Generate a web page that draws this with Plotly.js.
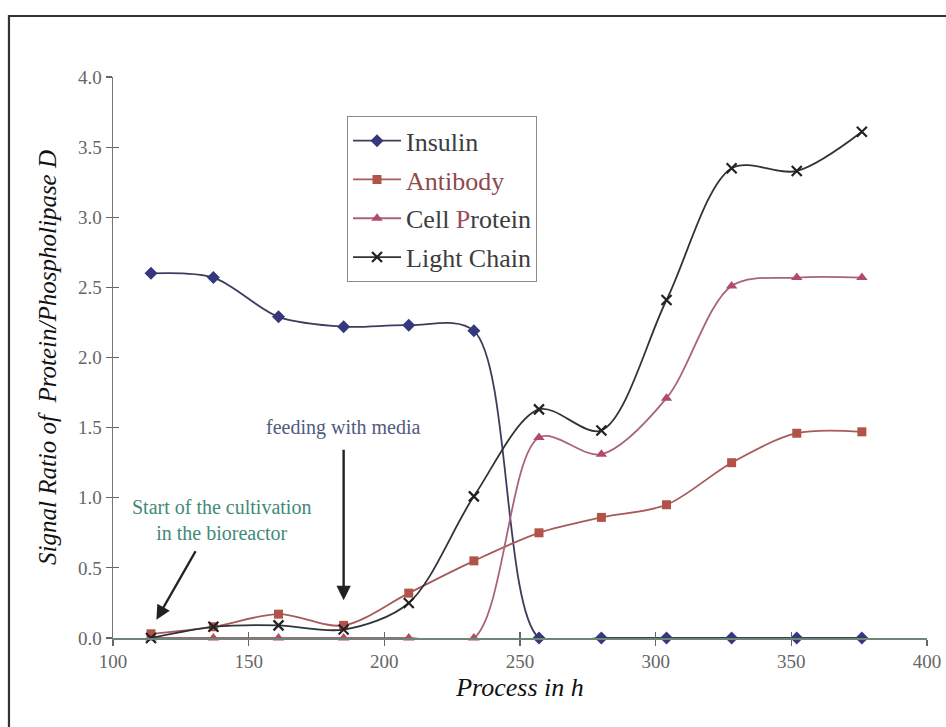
<!DOCTYPE html>
<html>
<head>
<meta charset="utf-8">
<script src="https://cdn.plot.ly/plotly-3.0.1.min.js"></script>
<style>
html,body{margin:0;padding:0;background:#fff;}
#chart{width:946px;height:727px;}
</style>
</head>
<body>
<div id="chart"></div>
<script>
// Process time (h)
const hours = [114, 137, 161, 185, 209, 233, 257, 280, 304, 328, 352, 376];
// Signal ratio of protein / phospholipase D
const insulin     = [2.60, 2.57, 2.29, 2.22, 2.23, 2.19, 0.00, 0.00, 0.00, 0.00, 0.00, 0.00];
const antibody    = [0.03, 0.08, 0.17, 0.09, 0.32, 0.55, 0.75, 0.86, 0.95, 1.25, 1.46, 1.47];
const cellProtein = [0.00, 0.00, 0.00, 0.00, 0.00, 0.00, 1.43, 1.31, 1.71, 2.51, 2.57, 2.57];
const lightChain  = [0.00, 0.08, 0.09, 0.06, 0.25, 1.01, 1.63, 1.48, 2.41, 3.35, 3.33, 3.61];

const seriesNames = ['Insulin', 'Antibody', 'Cell Protein', 'Light Chain'];
const xTicks = [100, 150, 200, 250, 300, 350, 400];
const yTicks = [0, 0.5, 1.0, 1.5, 2.0, 2.5, 3.0, 3.5, 4.0];

const serif = 'Liberation Serif, Times New Roman, serif';

function mk(name, y, lineColor, marker, group) {
  return {
    x: hours, y: y, name: name, type: 'scatter', mode: 'lines+markers',
    line: {color: lineColor, width: 1.8, shape: 'spline', smoothing: 0.9},
    marker: marker, cliponaxis: false, legendgroup: group
  };
}

const traces = [
  mk(seriesNames[0], insulin, '#3b3d5e', {symbol: 'diamond', size: 10, color: '#36387e'}, 'g1'),
  mk('<span style="color:#8e4a4a">' + seriesNames[1] + '</span>', antibody, '#a85a5a', {symbol: 'square', size: 9, color: '#b2534a'}, 'g2'),
  mk('Cell <span style="color:#9a4a5a">P</span>rotein', cellProtein, '#a8647a', {symbol: 'triangle-up', size: 10, color: '#b24c66'}, 'g3'),
  mk(seriesNames[3], lightChain, '#2f3436', {symbol: 'x-thin', size: 10, line: {width: 2.2, color: '#222'}, color: '#222'}, 'g4'),
  // helper trace so the crossing-tick overlay axes are created
  {x: [], y: [], xaxis: 'x2', yaxis: 'y2', showlegend: false, hoverinfo: 'skip', type: 'scatter'}
];

const layout = {
  width: 946, height: 727,
  margin: {l: 113, r: 19, t: 77, b: 89},
  paper_bgcolor: '#fff', plot_bgcolor: 'rgba(0,0,0,0)',
  font: {family: serif, color: '#555'},
  showlegend: true,
  legend: {
    x: 0.2875, y: 0.93, xanchor: 'left', yanchor: 'top',
    bgcolor: '#fff', bordercolor: '#8a8a8a', borderwidth: 1,
    font: {family: serif, size: 26, color: '#3c3c3c'},
    itemwidth: 48, tracegroupgap: 2, traceorder: 'grouped'
  },
  xaxis: {
    range: [100, 400], tickvals: xTicks, ticktext: xTicks.map(String),
    showgrid: false, zeroline: false, showline: true, linecolor: '#6f8676', linewidth: 1.5,
    ticks: 'outside', ticklen: 6, tickcolor: '#666', tickwidth: 1.2,
    tickfont: {family: serif, size: 19, color: '#666'},
    title: {text: '<i>Process in h</i>', font: {family: serif, size: 26, color: '#111'}, standoff: 6}
  },
  yaxis: {
    range: [0, 4], tickvals: yTicks, ticktext: yTicks.map(v => v.toFixed(1)),
    showgrid: false, zeroline: false, showline: true, linecolor: '#777', linewidth: 1.5,
    ticks: 'outside', ticklen: 6, tickcolor: '#666', tickwidth: 1.2,
    tickfont: {family: serif, size: 19, color: '#666'},
    title: {text: '<i>Signal Ratio of  Protein/Phospholipase D</i>', font: {family: serif, size: 25, color: '#111'}, standoff: 14}
  },
  xaxis2: {overlaying: 'x', range: [100, 400], tickvals: xTicks, showticklabels: false,
    showgrid: false, zeroline: false, showline: false, ticks: 'inside', ticklen: 6, tickcolor: '#666', tickwidth: 1.2},
  yaxis2: {overlaying: 'y', range: [0, 4], tickvals: yTicks, showticklabels: false,
    showgrid: false, zeroline: false, showline: false, ticks: 'inside', ticklen: 6, tickcolor: '#666', tickwidth: 1.2},
  shapes: [
    {type: 'rect', xref: 'paper', yref: 'paper', x0: -0.1278, x1: 1.2, y0: -0.3, y1: 1.1087,
     line: {color: '#333', width: 2.2}, fillcolor: 'rgba(0,0,0,0)', layer: 'below'}
  ],
  annotations: [
    {x: 185, y: 0.27, xref: 'x', yref: 'y', ax: 0, ay: -152, text: '', showarrow: true,
     arrowhead: 2, arrowsize: 1.2, arrowwidth: 2.4, arrowcolor: '#222'},
    {x: 185, y: 1.50, xref: 'x', yref: 'y', text: 'feeding with media', showarrow: false,
     font: {family: serif, size: 20, color: '#4f5b7e'}},
    {x: 116, y: 0.13, xref: 'x', yref: 'y', ax: 40, ay: -70, text: '', showarrow: true,
     arrowhead: 2, arrowsize: 1.2, arrowwidth: 2.4, arrowcolor: '#222'},
    {x: 140, y: 0.84, xref: 'x', yref: 'y', text: 'Start of the cultivation<br>in the bioreactor', showarrow: false,
     font: {family: serif, size: 20, color: '#3f8a78'}, align: 'center'}
  ]
};

Plotly.newPlot('chart', traces, layout, {displayModeBar: false, staticPlot: true});
</script>
</body>
</html>
